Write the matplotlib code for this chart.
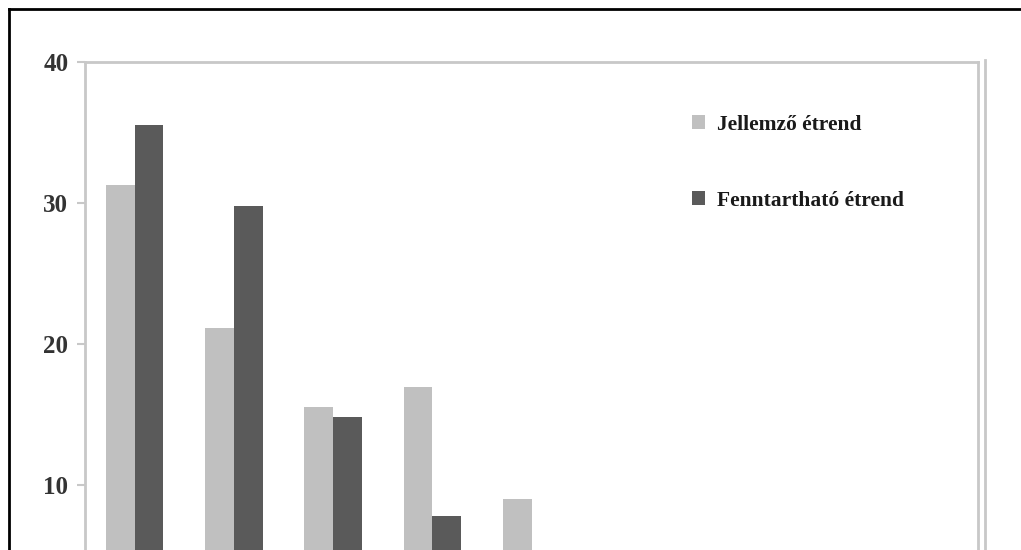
import matplotlib
matplotlib.use("Agg")
import matplotlib.pyplot as plt
from matplotlib.lines import Line2D
import numpy as np

# categories (x labels are cut off in the source image)
categories = ['1', '2', '3', '4', '5', '6', '7', '8', '9']
jellemzo = [31.3, 21.1, 15.5, 16.95, 9.0, 4.5, 3.0, 2.0, 1.0]
fenntarthato = [35.5, 29.8, 14.8, 7.8, 3.5, 2.5, 1.5, 1.0, 0.5]
series_names = ['Jellemző étrend', 'Fenntartható étrend']
yticks = [10, 20, 30, 40]

light = '#c0c0c0'
dark = '#5a5a5a'
spine_col = '#c8c8c8'

W, H = 1021, 550
fig = plt.figure(figsize=(W / 100, H / 100), dpi=100)
fig.patch.set_facecolor('white')

# axes reach below the bottom of the figure: the picture is cropped there
left, right, top, y0 = 85, 978, 62, 626
ax = fig.add_axes([left / W, (H - y0) / H, (right - left) / W, (y0 - top) / H])

x = np.arange(len(categories))
bw = 0.29
ax.bar(x - bw / 2, jellemzo, bw, color=light, label=series_names[0])
ax.bar(x + bw / 2, fenntarthato, bw, color=dark, label=series_names[1])

ax.set_xlim(-0.5, len(categories) - 0.5)
ax.set_ylim(0, 40)
ax.set_yticks(yticks)
ax.set_yticklabels([str(t) for t in yticks], fontsize=18, fontweight='bold',
                   family='Liberation Serif', color='#333333')
ax.tick_params(axis='y', length=6, width=1.5, color=spine_col, pad=6)
ax.set_xticks([])

for s in ax.spines.values():
    s.set_color(spine_col)
    s.set_linewidth(2)

# legend drawn as markers + text, like the source
leg = ax.legend(loc='upper left', bbox_to_anchor=((683 - left) / (right - left), 1 - (106 - top) / (y0 - top)),
                frameon=False, handlelength=0.6, handleheight=0.6, handletextpad=0.6,
                labelspacing=2.6, borderaxespad=0,
                prop={'family': 'Liberation Serif', 'weight': 'bold', 'size': 15.5})
for t in leg.get_texts():
    t.set_color('#1a1a1a')

# outer chart frame lines
fig.add_artist(Line2D([985 / W, 985 / W], [0, 1 - 60 / H], color=spine_col, lw=2))
fig.add_artist(Line2D([9 / W, 9 / W], [0, 1 - 9 / H], color='black', lw=2))
fig.add_artist(Line2D([9 / W, 1.0], [1 - 9 / H, 1 - 9 / H], color='black', lw=2))

fig.savefig('out.png', dpi=100)
